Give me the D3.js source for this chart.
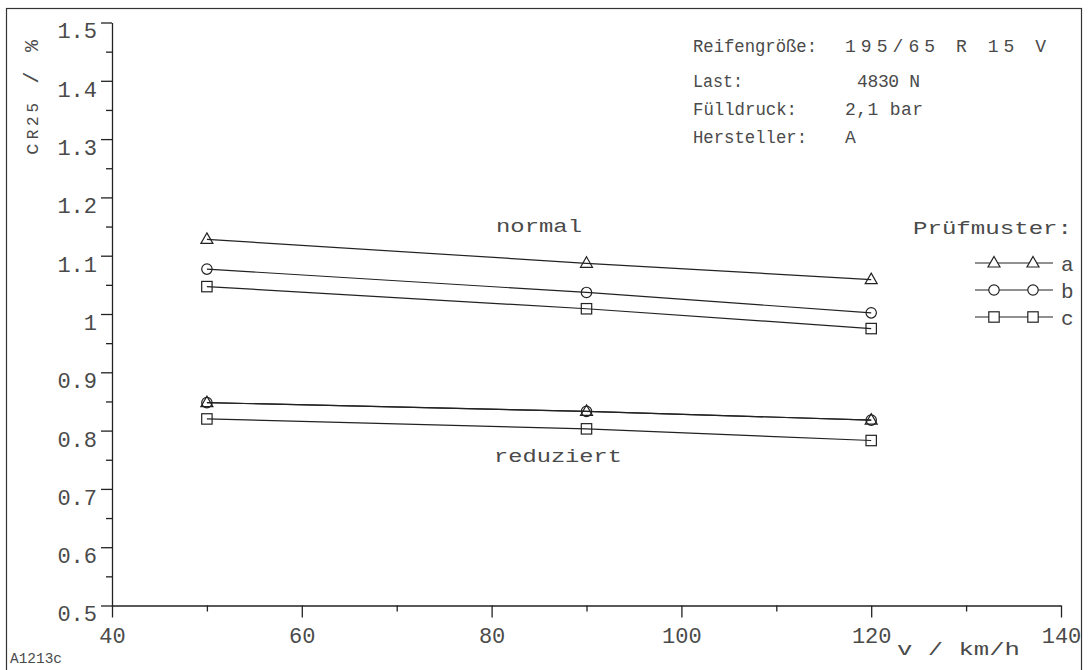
<!DOCTYPE html>
<html>
<head>
<meta charset="utf-8">
<script src="https://cdn.jsdelivr.net/npm/d3@7"></script>
<style>
  html, body { margin: 0; padding: 0; background: #fff; }
  svg { display: block; }
  text { font-family: "Liberation Mono", "DejaVu Sans Mono", monospace; fill: #4a4a4a; }
</style>
</head>
<body>
<svg id="chart" width="1088" height="670"></svg>
<script>
// Rolling resistance coefficient vs. speed, three test tyres, normal and reduced
const speeds = [50, 90, 120];
const normalA = [1.128, 1.087, 1.059];
const normalB = [1.077, 1.037, 1.002];
const normalC = [1.047, 1.009, 0.975];
const reducedA = [0.848, 0.833, 0.818];
const reducedB = [0.848, 0.833, 0.818];
const reducedC = [0.820, 0.803, 0.783];

const xTicksMajor = [40, 60, 80, 100, 120, 140];
const xTicksMinor = [50, 70, 90, 110, 130];
const yTicksMajor = [0.5, 0.6, 0.7, 0.8, 0.9, 1.0, 1.1, 1.2, 1.3, 1.4, 1.5];
const yTickLabels = ["0.5", "0.6", "0.7", "0.8", "0.9", "1", "1.1", "1.2", "1.3", "1.4", "1.5"];
const yTicksMinor = [0.55, 0.65, 0.75, 0.85, 0.95, 1.05, 1.15, 1.25, 1.35, 1.45];

const legendNames = ["a", "b", "c"];
const infoLabels = ["Reifengröße:", "Last:", "Fülldruck:", "Hersteller:"];
const infoValues = ["195/65 R 15 V", "4830 N", "2,1 bar", "A"];

const series = [
  { values: normalA, marker: "triangle" },
  { values: normalB, marker: "circle" },
  { values: normalC, marker: "square" },
  { values: reducedA, marker: "triangle" },
  { values: reducedB, marker: "circle" },
  { values: reducedC, marker: "square" }
];
const legendMarkers = ["triangle", "circle", "square"];

const svg = d3.select("#chart");
const ink = "#222";

// page frame
svg.append("rect")
  .attr("x", 6.5).attr("y", 8.5)
  .attr("width", 1075).attr("height", 670)
  .attr("fill", "none").attr("stroke", "#333").attr("stroke-width", 1.2);

const x = d3.scaleLinear().domain([40, 140]).range([112, 1061]);
const y = d3.scaleLinear().domain([0.5, 1.5]).range([605.5, 22.5]);

// y axis: major ticks with labels, minor ticks without
const yAxisG = svg.append("g").attr("transform", "translate(112,0)");
yAxisG.call(d3.axisLeft(y).tickValues(yTicksMajor).tickSize(11).tickSizeOuter(0)
    .tickPadding(4).tickFormat((d, i) => yTickLabels[i]));
yAxisG.append("g").call(d3.axisLeft(y).tickValues(yTicksMinor).tickSize(6).tickSizeOuter(0).tickFormat(""))
  .select(".domain").remove();

// x axis
const xAxisG = svg.append("g").attr("transform", "translate(0,605.5)");
xAxisG.call(d3.axisBottom(x).tickValues(xTicksMajor).tickSize(12).tickSizeOuter(0)
    .tickPadding(10).tickFormat(d3.format("d")));
xAxisG.append("g").call(d3.axisBottom(x).tickValues(xTicksMinor).tickSize(6).tickSizeOuter(0).tickFormat(""))
  .select(".domain").remove();

svg.selectAll(".domain, .tick line").attr("stroke", ink).attr("stroke-width", 1.3);
yAxisG.selectAll(".tick text")
  .attr("font-size", 22).attr("dy", "0.7em").attr("font-family", null)
  .attr("fill", "#555");
xAxisG.selectAll(".tick text")
  .attr("font-size", 22).attr("font-family", null)
  .attr("fill", "#555");

// axis titles
const yTitle = svg.append("text")
  .attr("transform", "translate(38,155) rotate(-90)")
  .attr("font-size", 20).attr("textLength", 115).attr("lengthAdjust", "spacing");
yTitle.append("tspan").text("c");
yTitle.append("tspan").attr("font-size", 16).text("R25");
yTitle.append("tspan").text(" / %");

svg.append("text").attr("x", 897).attr("y", 655)
  .attr("font-size", 19).attr("textLength", 123).attr("lengthAdjust", "spacingAndGlyphs")
  .text("v / km/h");

svg.append("text").attr("x", 10).attr("y", 663)
  .attr("font-size", 14).attr("textLength", 52).attr("lengthAdjust", "spacingAndGlyphs")
  .text("A1213c");

// marker shapes
function drawMarker(g, kind, cx, cy) {
  if (kind === "triangle") {
    g.append("path")
      .attr("d", `M${cx},${cy - 6.5}L${cx + 6},${cy + 4}L${cx - 6},${cy + 4}Z`);
  } else if (kind === "circle") {
    g.append("circle").attr("cx", cx).attr("cy", cy).attr("r", 5.2);
  } else {
    g.append("rect").attr("x", cx - 5.2).attr("y", cy - 5.2).attr("width", 10.4).attr("height", 10.4);
  }
}

const line = d3.line().x(d => x(d[0])).y(d => y(d[1]));
const plot = svg.append("g");
series.forEach(s => {
  const pts = speeds.map((v, i) => [v, s.values[i]]);
  plot.append("path").datum(pts).attr("d", line)
    .attr("fill", "none").attr("stroke", ink).attr("stroke-width", 1.2);
  const mg = plot.append("g").attr("fill", "none")
    .attr("stroke", ink).attr("stroke-width", 1.2);
  pts.forEach(p => drawMarker(mg, s.marker, x(p[0]), y(p[1])));
});

// group labels
svg.append("text").attr("x", 496).attr("y", 232)
  .attr("font-size", 19).attr("textLength", 86).attr("lengthAdjust", "spacingAndGlyphs")
  .text("normal");
svg.append("text").attr("x", 494).attr("y", 462)
  .attr("font-size", 19).attr("textLength", 128).attr("lengthAdjust", "spacingAndGlyphs")
  .text("reduziert");

// tyre information block
const infoY = [52, 87, 115, 143];
const infoLabelW = [124, 50, 104, 114];
const infoValueX = [845, 857, 845, 845];
const infoValueW = [201, 63, 78, 11];
infoLabels.forEach((t, i) => {
  svg.append("text").attr("x", 693).attr("y", infoY[i])
    .attr("font-size", 18).attr("textLength", infoLabelW[i]).attr("lengthAdjust", "spacingAndGlyphs")
    .text(t);
  svg.append("text").attr("x", infoValueX[i]).attr("y", infoY[i])
    .attr("font-size", 18).attr("textLength", infoValueW[i]).attr("lengthAdjust", "spacing")
    .text(infoValues[i]);
});

// legend
svg.append("text").attr("x", 913).attr("y", 234)
  .attr("font-size", 19).attr("textLength", 159).attr("lengthAdjust", "spacingAndGlyphs")
  .text("Prüfmuster:");
const legendY = [263, 290, 317];
legendNames.forEach((name, i) => {
  const lg = svg.append("g");
  lg.append("line").attr("x1", 975).attr("x2", 1053)
    .attr("y1", legendY[i]).attr("y2", legendY[i])
    .attr("stroke", ink).attr("stroke-width", 1.2);
  const mg = lg.append("g").attr("fill", "#fff").attr("stroke", ink).attr("stroke-width", 1.2);
  drawMarker(mg, legendMarkers[i], 994, legendY[i]);
  drawMarker(mg, legendMarkers[i], 1033, legendY[i]);
  lg.append("text").attr("x", 1061).attr("y", legendY[i] + 8)
    .attr("font-size", 21).text(name);
});
</script>
</body>
</html>
